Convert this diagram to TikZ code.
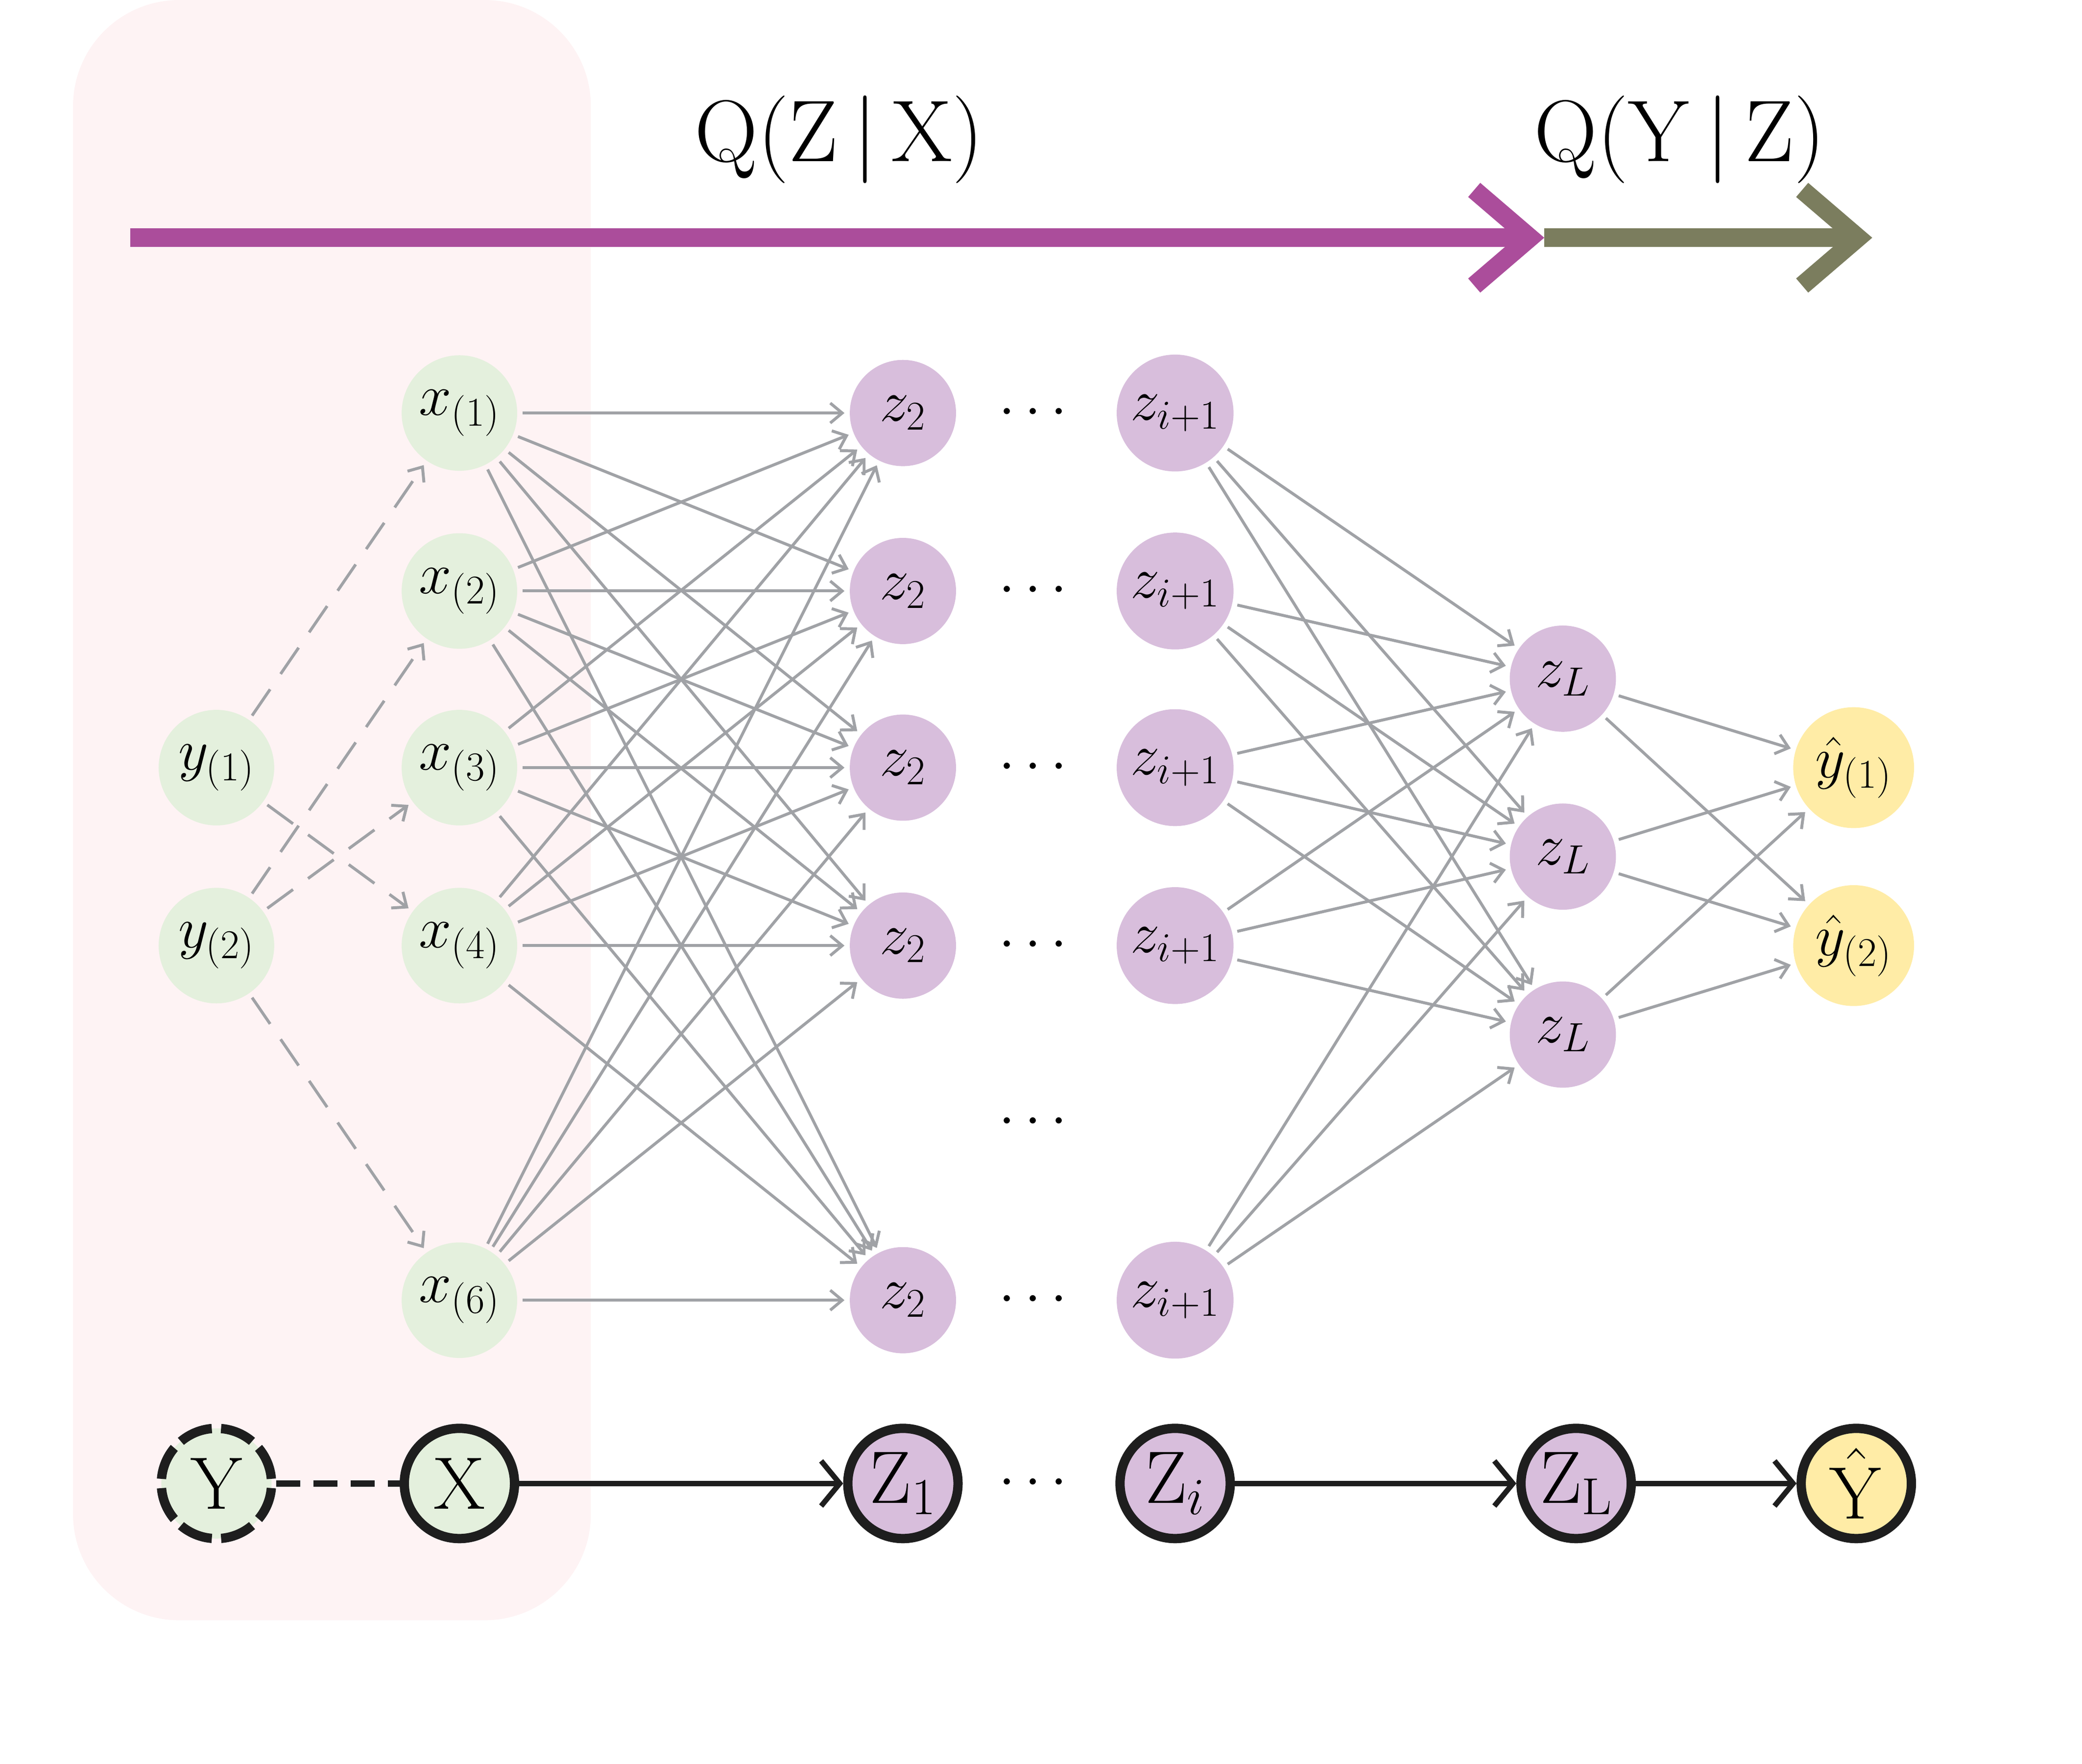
\documentclass[tikz,border=0pt]{standalone}
\usepackage{fix-cm}
\usetikzlibrary{arrows.meta}
\definecolor{netcolor0000}{RGB}{30,30,30}
\definecolor{netcolor0001}{RGB}{228,240,221}
\definecolor{netcolor0002}{RGB}{216,190,220}
\definecolor{netcolor0003}{RGB}{255,236,166}
\definecolor{netcolor0004}{RGB}{254,243,244}
\definecolor{netcolor0005}{RGB}{160,162,166}
\definecolor{netcolor0006}{RGB}{171,77,155}
\definecolor{netcolor0007}{RGB}{123,125,94}
\begin{document}
\begin{tikzpicture}[x=1pt,y=-1pt
,pstyle0/.style={circle,inner sep=0pt,outer sep=4pt,font=\fontsize{44}{50}\selectfont}
,pstyle1/.style={pstyle0,fill=netcolor0001,minimum size=87pt}
,pstyle2/.style={pstyle0,fill=netcolor0002,minimum size=80pt}
,pstyle3/.style={pstyle0,fill=netcolor0002,minimum size=88pt}
,pstyle4/.style={pstyle0,fill=netcolor0003,minimum size=91pt}
,pstyle5/.style={color=netcolor0005,line width=2.2pt,-{Straight Barb[length=9pt,width=15pt]}}
,pstyle6/.style={pstyle5,dash pattern=on 24pt off 14pt}
,pstyle7/.style={circle,draw=netcolor0000,line width=7pt,minimum size=83pt,inner sep=0pt,font=\fontsize{56}{60}\selectfont}
,pstyle8/.style={color=netcolor0000,line width=4pt,-{Straight Barb[length=14pt,width=34pt,sharp]}}
,pstyle9/.style={line width=14pt,-{Straight Barb[length=42pt,width=72pt,sharp]}}
,pstyle10/.style={font=\fontsize{66}{70}\selectfont}
]
\useasboundingbox (0,0) rectangle (1568,1328);
\fill[netcolor0004,rounded corners=80pt] (55,0) rectangle (445,1220);
\node[pstyle10] (qzx) at (632,105) {$\mathrm{Q}(\mathrm{Z}\,|\,\mathrm{X})$};
\node[pstyle10] (qyz) at (1265,105) {$\mathrm{Q}(\mathrm{Y}\,|\,\mathrm{Z})$};
\coordinate (a0) at (98,179);
\coordinate (a1) at (1163,179);
\coordinate (a2) at (1410,179);
\draw[pstyle9,color=netcolor0006] (a0) -- (a1);
\draw[pstyle9,color=netcolor0007] (a1) -- (a2);
\node[pstyle1] (y1) at (163,578) {$y_{(1)}$};
\node[pstyle1] (y2) at (163,712) {$y_{(2)}$};
\node[pstyle1] (x1) at (346,311) {$x_{(1)}$};
\node[pstyle1] (x2) at (346,445) {$x_{(2)}$};
\node[pstyle1] (x3) at (346,578) {$x_{(3)}$};
\node[pstyle1] (x4) at (346,712) {$x_{(4)}$};
\node[pstyle1] (x6) at (346,979) {$x_{(6)}$};
\node[pstyle2] (za1) at (680,311) {$z_2$};
\node[pstyle2] (za2) at (680,445) {$z_2$};
\node[pstyle2] (za3) at (680,578) {$z_2$};
\node[pstyle2] (za4) at (680,712) {$z_2$};
\node[pstyle2] (za5) at (680,979) {$z_2$};
\node[pstyle0] (d1) at (778,311) {$\cdots$};
\node[pstyle0] (d2) at (778,445) {$\cdots$};
\node[pstyle0] (d3) at (778,578) {$\cdots$};
\node[pstyle0] (d4) at (778,712) {$\cdots$};
\node[pstyle0] (d5) at (778,845) {$\cdots$};
\node[pstyle0] (d6) at (778,979) {$\cdots$};
\node[pstyle3] (zb1) at (885,311) {$z_{i+1}$};
\node[pstyle3] (zb2) at (885,445) {$z_{i+1}$};
\node[pstyle3] (zb3) at (885,578) {$z_{i+1}$};
\node[pstyle3] (zb4) at (885,712) {$z_{i+1}$};
\node[pstyle3] (zb5) at (885,979) {$z_{i+1}$};
\node[pstyle2] (zl1) at (1177,511) {$z_L$};
\node[pstyle2] (zl2) at (1177,645) {$z_L$};
\node[pstyle2] (zl3) at (1177,779) {$z_L$};
\node[pstyle4] (yh1) at (1396,578) {$\hat{y}_{(1)}$};
\node[pstyle4] (yh2) at (1396,712) {$\hat{y}_{(2)}$};
\draw[pstyle6] (y1) edge (x1) edge (x4);
\draw[pstyle6] (y2) edge (x2) edge (x3) edge (x6);
\draw[pstyle5] (x1) edge (za1) edge (za2) edge (za3) edge (za4) edge (za5);
\draw[pstyle5] (x2) edge (za1) edge (za2) edge (za3) edge (za4) edge (za5);
\draw[pstyle5] (x3) edge (za1) edge (za2) edge (za3) edge (za4) edge (za5);
\draw[pstyle5] (x4) edge (za1) edge (za2) edge (za3) edge (za4) edge (za5);
\draw[pstyle5] (x6) edge (za1) edge (za2) edge (za3) edge (za4) edge (za5);
\draw[pstyle5] (zb1) edge (zl1) edge (zl2) edge (zl3);
\draw[pstyle5] (zb2) edge (zl1) edge (zl2) edge (zl3);
\draw[pstyle5] (zb3) edge (zl1) edge (zl2) edge (zl3);
\draw[pstyle5] (zb4) edge (zl1) edge (zl2) edge (zl3);
\draw[pstyle5] (zb5) edge (zl1) edge (zl2) edge (zl3);
\draw[pstyle5] (zl1) edge (yh1) edge (yh2);
\draw[pstyle5] (zl2) edge (yh1) edge (yh2);
\draw[pstyle5] (zl3) edge (yh1) edge (yh2);
\node[pstyle7,fill=netcolor0001,dash pattern=on 25.6pt off 7pt,dash phase=29.1pt] (bY) at (163,1117) {Y};
\node[pstyle7,fill=netcolor0001] (bX) at (346,1117) {X};
\node[pstyle7,fill=netcolor0002] (bZ1) at (680,1117) {$\mathrm{Z}_1$};
\node[pstyle0] (bd) at (778,1117) {$\cdots$};
\node[pstyle7,fill=netcolor0002] (bZi) at (885,1117) {$\mathrm{Z}_i$};
\node[pstyle7,fill=netcolor0002] (bZL) at (1187,1117) {$\mathrm{Z}_{\mathrm{L}}$};
\node[pstyle7,fill=netcolor0003] (bYh) at (1398,1117) {$\hat{\mathrm{Y}}$};
\draw[color=netcolor0000,line width=5pt,dash pattern=on 18pt off 10pt] (bY) -- (bX);
\draw[pstyle8] (bX) -- (bZ1);
\draw[pstyle8] (bZi) -- (bZL);
\draw[pstyle8] (bZL) -- (bYh);
\end{tikzpicture}
\end{document}
